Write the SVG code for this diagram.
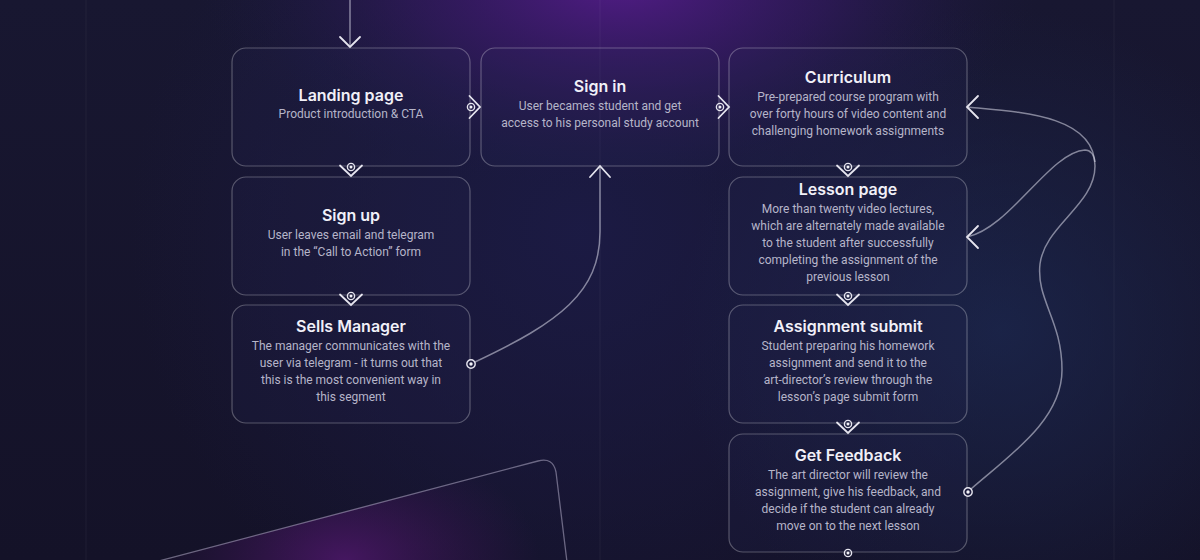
<svg xmlns="http://www.w3.org/2000/svg" xmlns:xlink="http://www.w3.org/1999/xlink" width="1200" height="560" viewBox="0 0 1200 560">
<defs>
  <radialGradient id="gTop" cx="620" cy="-20" r="420" gradientUnits="userSpaceOnUse" gradientTransform="translate(620,-20) scale(1,0.5) translate(-620,20)">
    <stop offset="0" stop-color="#531c88" stop-opacity="1"/>
    <stop offset="0.5" stop-color="#3a1a6a" stop-opacity="0.55"/>
    <stop offset="1" stop-color="#1d1a44" stop-opacity="0"/>
  </radialGradient>
  <radialGradient id="gRight" cx="1000" cy="330" r="320" gradientUnits="userSpaceOnUse">
    <stop offset="0" stop-color="#1c2850" stop-opacity="0.75"/>
    <stop offset="1" stop-color="#1c2850" stop-opacity="0"/>
  </radialGradient>
  <radialGradient id="gMid" cx="580" cy="230" r="450" gradientUnits="userSpaceOnUse">
    <stop offset="0" stop-color="#1c1b46" stop-opacity="0.9"/>
    <stop offset="1" stop-color="#1c1b46" stop-opacity="0"/>
  </radialGradient>
  <radialGradient id="gBottom" cx="345" cy="560" r="150" gradientUnits="userSpaceOnUse" gradientTransform="translate(345,560) scale(1.3,0.8) translate(-345,-560)">
    <stop offset="0" stop-color="#4a1766" stop-opacity="0.9"/>
    <stop offset="1" stop-color="#3a1450" stop-opacity="0"/>
  </radialGradient>
  <linearGradient id="gBase" x1="0" y1="0" x2="0" y2="1">
    <stop offset="0" stop-color="#181731"/>
    <stop offset="1" stop-color="#141228"/>
  </linearGradient>
  <clipPath id="cardClip">
    <path d="M155,562 L538,461 Q553,457 556,472 L567,562 Z"/>
  </clipPath>
  <g id="sym">
    <path d="M-11,-1.5 L0,9 L11,-1.5" class="chev"/>
    <circle cx="0" cy="0" r="3.6" class="ring"/>
    <circle cx="0" cy="0" r="1.5" class="dot"/>
  </g>
  <g id="endpt">
    <circle cx="0" cy="0" r="4.2" class="ring" style="fill:#1b1a3c"/>
    <circle cx="0" cy="0" r="1.7" class="dot"/>
  </g>
</defs>
<style>
  .box { fill: rgba(40,38,90,0.15); stroke: rgba(255,255,255,0.28); stroke-width: 1.2; }
  .title { font-family: "Inter", "Noto Sans", sans-serif; font-size: 16px; font-weight: 600; fill: #f1f0f8; text-anchor: middle; }
  .body { font-family: Roboto, "Noto Sans", sans-serif; font-size: 12px; fill: #b6b5c9; text-anchor: middle; }
  .chev { fill: none; stroke: #e6e5ef; stroke-width: 1.8; stroke-linecap: round; stroke-linejoin: miter; }
  .ring { fill: none; stroke: #e6e5ef; stroke-width: 1.4; }
  .dot { fill: #f2f2f8; }
  .line { fill: none; stroke: rgba(220,220,235,0.55); stroke-width: 1.5; }
  .grid { stroke: rgba(255,255,255,0.05); stroke-width: 1; }
</style>

<!-- background -->
<rect x="0" y="0" width="1200" height="560" fill="url(#gBase)"/>
<rect x="0" y="0" width="1200" height="560" fill="url(#gMid)"/>
<rect x="0" y="0" width="1200" height="560" fill="url(#gRight)"/>
<rect x="0" y="0" width="1200" height="560" fill="url(#gTop)"/>
<line class="grid" x1="86" y1="0" x2="86" y2="560"/>
<line class="grid" x1="600" y1="0" x2="600" y2="560"/>
<line class="grid" x1="1114" y1="0" x2="1114" y2="560"/>

<!-- tilted card at bottom -->
<g id="card">
  <rect x="0" y="400" width="700" height="160" fill="url(#gBottom)" clip-path="url(#cardClip)"/>
  <path d="M155,562 L538,461 Q553,457 556,472 L567,562" fill="none" stroke="rgba(210,205,230,0.45)" stroke-width="1.3"/>
</g>

<!-- nodes -->
<g id="landing">
  <rect class="box" x="232" y="48" width="238" height="118" rx="14"/>
  <text class="title" x="351" y="101">Landing page</text>
  <text class="body" x="351" y="118">Product introduction &amp; CTA</text>
</g>
<g id="signin">
  <rect class="box" x="481" y="48" width="238" height="118" rx="14"/>
  <text class="title" x="600" y="92">Sign in</text>
  <text class="body" x="600" y="110">User becames student and get</text>
  <text class="body" x="600" y="127">access to his personal study account</text>
</g>
<g id="curriculum">
  <rect class="box" x="729" y="48" width="238" height="118" rx="14"/>
  <text class="title" x="848" y="83">Curriculum</text>
  <text class="body" x="848" y="101">Pre-prepared course program with</text>
  <text class="body" x="848" y="118">over forty hours of video content and</text>
  <text class="body" x="848" y="135">challenging homework assignments</text>
</g>
<g id="signup">
  <rect class="box" x="232" y="177" width="238" height="118" rx="14"/>
  <text class="title" x="351" y="221">Sign up</text>
  <text class="body" x="351" y="239">User leaves email and telegram</text>
  <text class="body" x="351" y="256">in the “Call to Action” form</text>
</g>
<g id="sells">
  <rect class="box" x="232" y="305" width="238" height="118" rx="14"/>
  <text class="title" x="351" y="332">Sells Manager</text>
  <text class="body" x="351" y="350">The manager communicates with the</text>
  <text class="body" x="351" y="367">user via telegram - it turns out that</text>
  <text class="body" x="351" y="384">this is the most convenient way in</text>
  <text class="body" x="351" y="401">this segment</text>
</g>
<g id="lesson">
  <rect class="box" x="729" y="177" width="238" height="118" rx="14"/>
  <text class="title" x="848" y="195">Lesson page</text>
  <text class="body" x="848" y="213">More than twenty video lectures,</text>
  <text class="body" x="848" y="230">which are alternately made available</text>
  <text class="body" x="848" y="247">to the student after successfully</text>
  <text class="body" x="848" y="264">completing the assignment of the</text>
  <text class="body" x="848" y="281">previous lesson</text>
</g>
<g id="assignment">
  <rect class="box" x="729" y="305" width="238" height="118" rx="14"/>
  <text class="title" x="848" y="332">Assignment submit</text>
  <text class="body" x="848" y="350">Student preparing his homework</text>
  <text class="body" x="848" y="367">assignment and send it to the</text>
  <text class="body" x="848" y="384">art-director’s review through the</text>
  <text class="body" x="848" y="401">lesson’s page submit form</text>
</g>
<g id="feedback">
  <rect class="box" x="729" y="434" width="238" height="118" rx="14"/>
  <text class="title" x="848" y="461">Get Feedback</text>
  <text class="body" x="848" y="479">The art director will review the</text>
  <text class="body" x="848" y="496">assignment, give his feedback, and</text>
  <text class="body" x="848" y="513">decide if the student can already</text>
  <text class="body" x="848" y="530">move on to the next lesson</text>
</g>

<!-- connectors -->
<g id="connectors">
  <line class="line" x1="350" y1="0" x2="350" y2="47"/>
  <path class="chev" d="M340,37 L350,47 L360,37"/>

  <use xlink:href="#sym" href="#sym" transform="translate(351,167)"/>
  <use xlink:href="#sym" href="#sym" transform="translate(351,296)"/>
  <use xlink:href="#sym" href="#sym" transform="translate(848,167)"/>
  <use xlink:href="#sym" href="#sym" transform="translate(848,296)"/>
  <use xlink:href="#sym" href="#sym" transform="translate(848,424)"/>
  <circle cx="848" cy="553" r="3.6" class="ring"/>
  <circle cx="848" cy="553" r="1.5" class="dot"/>
  <use xlink:href="#sym" href="#sym" transform="translate(471,107) rotate(-90)"/>
  <use xlink:href="#sym" href="#sym" transform="translate(720,107) rotate(-90)"/>

  <path class="line" d="M475,362 C560,322 600,292 600,232 L600,166"/>
  <path class="chev" d="M590,177 L600,166 L610,177"/>
  <use xlink:href="#endpt" href="#endpt" transform="translate(471,364)"/>

  <path class="line" d="M971,489 C1010,455 1062,420 1062,370 C1062,320 1036,300 1040,264 C1045,225 1095,205 1095,166 C1095,115 1020,112 967,107"/>
  <path class="line" d="M967,237 C1010,228 1050,152 1085,150 C1091,150 1094,156 1095,162"/>
  <path class="chev" d="M978,96 L967,107 L978,118"/>
  <path class="chev" d="M978,226 L967,237 L978,248"/>
  <use xlink:href="#endpt" href="#endpt" transform="translate(968,492)"/>
</g>
</svg>
